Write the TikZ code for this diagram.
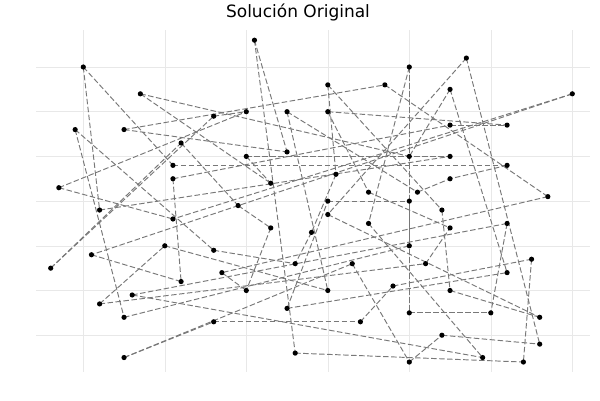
\documentclass[tikz,border=0pt]{standalone}
\usepackage{fontspec}
\setmainfont{DejaVu Sans}
\begin{document}
\begin{tikzpicture}[x=1pt,y=-1pt,
  gridline/.style={draw={rgb,255:red,232;green,232;blue,232},line width=0.5pt},
  edge/.style={draw={rgb,255:red,120;green,120;blue,120},line width=0.95pt,dash pattern=on 5.5pt off 2.5pt},
  dot/.style={fill=black}]
\useasboundingbox (0,0) rectangle (600,400);
\fill[white] (0,0) rectangle (600,400);
% grid
\foreach \k in {0,...,6} {
  \draw[gridline] ({83.3+81.5*\k},30) -- ({83.3+81.5*\k},372);
  \draw[gridline] (36,{67+44.7*\k}) -- (590,{67+44.7*\k});
}
\node[font=\fontsize{17}{20}\selectfont] (title) at (298,12) {Solución Original};
\begin{scope}[shift={(83.3,67)},x=8.15pt,y=-4.47pt]
\foreach \i/\X/\Y in {1/0/0,2/7/6,3/-1/14,4/5/14,5/16/11,6/12/17,7/11/22,8/11/25,9/-3/27,10/2/32,
 11/21/-6,12/30/4,13/37/4,14/20/10,15/25/10,16/30/10,17/20/20,18/25/19,19/31/24,20/23/26,
 21/35/28,22/30/30,23/19/31,24/40/0,25/47/-2,26/45/5,27/60/6,28/45/13,29/52/13,30/40/20,
 31/45/20,32/52/22,33/45/25,34/41/28,35/57/29,36/40/30,37/44/32,38/11/34,39/10/40,40/1/42,
 41/-4/45,42/16/41,43/17/46,44/12/48,45/6/51,46/2/53,47/5/56,48/16/57,49/5/65,50/30/33,
 51/23/36,52/28/37,53/35/35,54/26/44,55/33/44,56/20/50,57/30/50,58/38/49,59/25/54,60/34/57,
 61/26/64,62/52/35,63/45/36,64/40/40,65/55/43,66/42/44,67/52/46,68/45/50,69/40/55,70/50/55,
 71/56/56,72/44/60,73/56/62,74/49/65,75/40/66,76/54/66}
  \coordinate (p\i) at (\X,\Y);
\end{scope}
\foreach \a/\b in {1/10,1/7,3/47,3/42,41/6,41/5,2/30,2/20,4/13,4/18,
 11/18,11/61,13/35,12/19,12/37,16/21,16/29,24/64,24/53,25/50,
 25/73,27/40,27/38,9/38,9/14,10/31,5/14,6/23,48/60,69/70,
 65/76,37/68,34/33,75/72,59/22,36/69,17/20,26/67,60/58,42/54,
 66/63,49/48,49/55,45/62,46/39,46/66,47/64,7/32,8/28,8/44,
 15/34,15/57,17/31,19/52,21/63,22/36,23/51,26/30,28/29,32/33,
 35/43,39/57,40/44,43/56,45/74,50/71,53/74,51/56,52/54,58/65,
 59/67,61/76,62/70,68/71,72/73,55/75}
  \draw[edge] (p\a) -- (p\b);
\foreach \i in {1,...,76}
  \fill[dot] (p\i) circle (2.6pt);
\end{tikzpicture}
\end{document}
